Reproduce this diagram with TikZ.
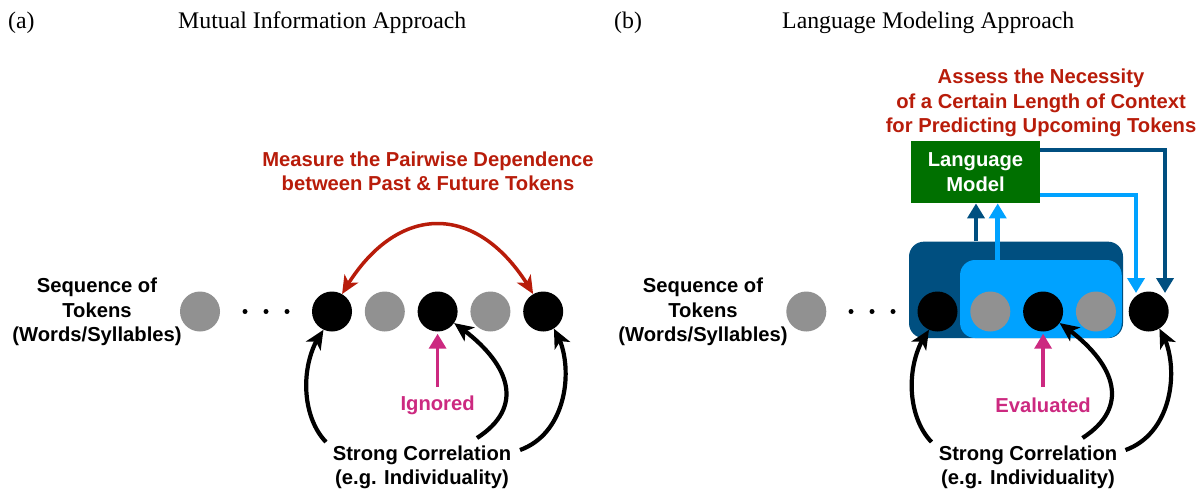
\documentclass[tikz,border=0pt]{standalone}
\usepackage{fontspec}
\setmainfont{Liberation Serif}
\setsansfont{Liberation Sans}
\usetikzlibrary{arrows.meta,bending,calc}
\definecolor{myred}{RGB}{184,28,10}
\definecolor{mypink}{RGB}{204,41,128}
\definecolor{navy}{RGB}{0,79,128}
\definecolor{ltblue}{RGB}{0,162,255}
\definecolor{lmgreen}{RGB}{0,112,0}
\definecolor{tokgray}{RGB}{145,145,145}
\begin{document}
\begin{tikzpicture}[x=1pt,y=-1pt,
  tok/.style={circle,inner sep=0pt,minimum size=40pt,draw=none},
  blk/.style={tok,fill=black},
  gry/.style={tok,fill=tokgray},
  dotnode/.style={circle,fill=black,inner sep=0pt,minimum size=5pt},
  lbl/.style={font=\sffamily\bfseries\fontsize{20.2}{24.5}\selectfont,align=center,inner sep=0pt},
  ttl/.style={font=\fontsize{23.8}{28}\selectfont,inner sep=0pt,anchor=base west},
  corr/.style={line width=4.2pt,-{Stealth[length=19pt,width=17pt,inset=5pt,flex]}},
  redarr/.style={myred,line width=3.5pt,{Stealth[length=18pt,width=16pt,inset=5pt,flex]}-{Stealth[length=18pt,width=16pt,inset=5pt,flex]}},
  pinkarr/.style={mypink,line width=3.5pt,-{Triangle[length=15pt,width=17pt]},shorten >=2pt},
  navyarr/.style={navy,line width=4.5pt,-{Triangle[length=15pt,width=17pt]}},
  ltarr/.style={ltblue,line width=4.5pt,-{Triangle[length=15pt,width=17pt]}},
]
\useasboundingbox (0,0) rectangle (1198,488);

% titles
\node[ttl] (ta) at (8,28.5) {(a)};
\node[ttl] (tat) at (178,28.5) {Mutual Information Approach};
\node[ttl] (tb) at (614,28.5) {(b)};
\node[ttl] (tbt) at (782,28.5) {Language Modeling Approach};

% ---------------- left panel ----------------
\node[lbl] (seqL) at (97,312) {Sequence of\\Tokens\\(Words/Syllables)};
\node[gry] (g1) at (200,311.5) {};
\node[dotnode] (d1) at (245,311.5) {};
\node[dotnode] (d2) at (266,311.5) {};
\node[dotnode] (d3) at (287,311.5) {};
\node[blk] (b1) at (332,311.5) {};
\node[gry] (g2) at (384.8,311.5) {};
\node[blk] (b2) at (437.6,311.5) {};
\node[gry] (g3) at (490.4,311.5) {};
\node[blk] (b3) at (543.2,311.5) {};

\node[lbl,text=myred] (mL) at (428,171.5) {Measure the Pairwise Dependence\\between Past \& Future Tokens};
\draw[redarr] (b1.60) .. controls (395,200) and (480,200) .. (b3.120);

\node[lbl,text=mypink] (ign) at (437.6,405) {Ignored};
\coordinate (p1) at (437.6,387);
\draw[pinkarr] (p1) -- (b2.south);

\node[lbl] (scL) at (422,467.5) {Strong Correlation\\(e.g. Individuality)};
\coordinate (s1) at (326,442);
\coordinate (s2) at (477,438);
\coordinate (s3) at (520,450);
\draw[corr] (s1) .. controls (300,415) and (300,360) .. (b1.-115);
\draw[corr] (s2) .. controls (528,405) and (508,360) .. (b2.-35);
\draw[corr] (s3) .. controls (570,432) and (575,360) .. (b3.-58);

% ---------------- right panel ----------------
\node[fill=navy,rounded corners=15pt,minimum width=214pt,minimum height=96.5pt,inner sep=0pt] (dk) at (1016,289.9) {};
\node[fill=ltblue,rounded corners=15pt,minimum width=161.7pt,minimum height=78pt,inner sep=0pt] (lt) at (1040.9,299) {};

\node[lbl] (seqR) at (703,312) {Sequence of\\Tokens\\(Words/Syllables)};
\node[gry] (g1r) at (806.3,311.5) {};
\node[dotnode] (d1r) at (851,311.5) {};
\node[dotnode] (d2r) at (872,311.5) {};
\node[dotnode] (d3r) at (893,311.5) {};
\node[blk] (b1r) at (937.5,311.5) {};
\node[gry] (g2r) at (990.3,311.5) {};
\node[blk] (b2r) at (1043.1,311.5) {};
\node[gry] (g3r) at (1095.9,311.5) {};
\node[blk] (b4r) at (1148.7,311.5) {};

\node[lbl,text=myred] (mR) at (1041,103) {Assess the Necessity\\of a Certain Length of Context\\for Predicting Upcoming Tokens};

\node[lbl,fill=lmgreen,text=white,minimum width=129pt,minimum height=62pt] (lm) at (975.5,172.2) {Language\\Model};

\coordinate (xa) at (976,0);
\coordinate (xb) at (997.7,0);
\draw[navyarr] (xa |- dk.north) -- (xa |- lm.south);
\draw[ltarr] (xb |- lt.north) -- (xb |- lm.south);
\coordinate (tl) at ($(b4r.center)+(-12.7,-18.5)$);
\coordinate (tn) at ($(b4r.center)+(16.3,-18.5)$);
\draw[ltarr] (lm.east |- 0,195) -| (tl);
\draw[navyarr] (lm.east |- 0,150) -| (tn);

\node[lbl,text=mypink] (evl) at (1043.1,405) {Evaluated};
\coordinate (p2) at (1043.1,387);
\draw[pinkarr] (p2) -- (b2r.south);

\node[lbl] (scR) at (1028,467.5) {Strong Correlation\\(e.g. Individuality)};
\coordinate (s1r) at (931.5,442);
\coordinate (s2r) at (1082.5,438);
\coordinate (s3r) at (1125.5,450);
\draw[corr] (s1r) .. controls (905.5,415) and (905.5,360) .. (b1r.-115);
\draw[corr] (s2r) .. controls (1133.5,405) and (1113.5,360) .. (b2r.-35);
\draw[corr] (s3r) .. controls (1175.5,432) and (1180.5,360) .. (b4r.-58);
\end{tikzpicture}
\end{document}
